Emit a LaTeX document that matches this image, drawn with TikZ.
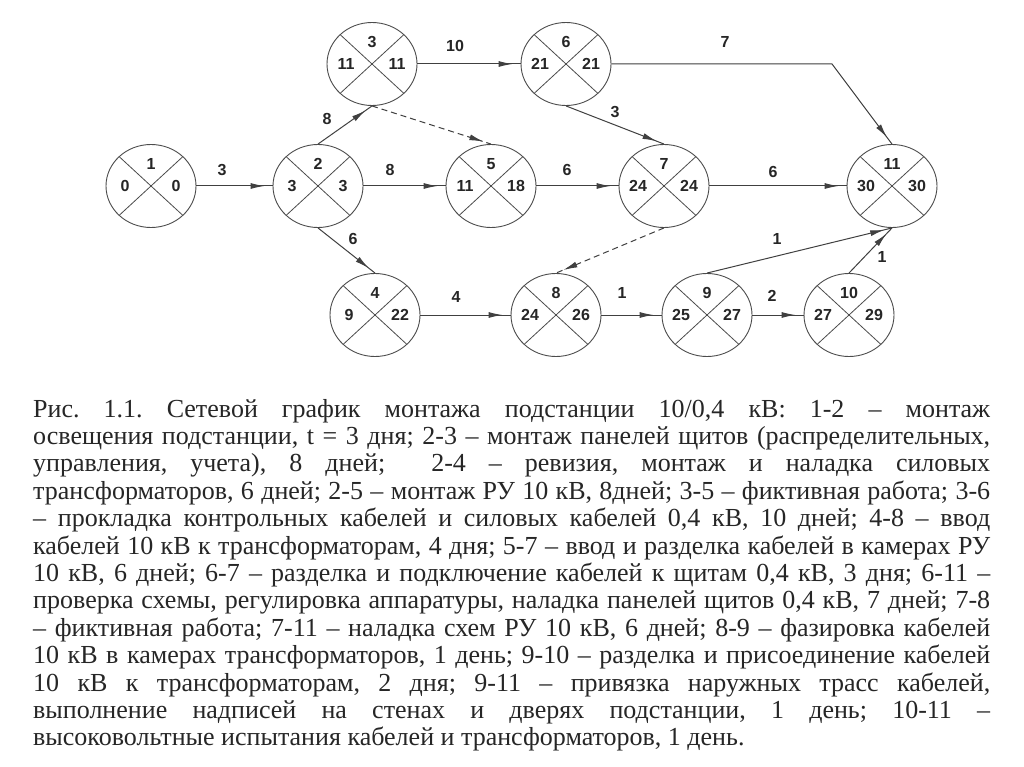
\documentclass[tikz,border=0pt]{standalone}
\usepackage{fontspec}
\setmainfont{Liberation Serif}
\newfontfamily\numfont{Liberation Sans}
\usetikzlibrary{shapes.geometric,arrows.meta,decorations.markings}
\tikzset{
  ev/.style={ellipse, draw=black!70, line width=0.9pt, minimum width=90pt, minimum height=83pt, inner sep=0pt,
    path picture={\draw[black!70, line width=0.8pt]
      (path picture bounding box.north west) -- (path picture bounding box.south east)
      (path picture bounding box.north east) -- (path picture bounding box.south west);}},
  num/.style={font=\numfont\bfseries\fontsize{16}{16}\selectfont, inner sep=0pt, text=black!85},
  lab/.style={num},
  act/.style={draw=black!75, line width=1pt, postaction={decorate},
    decoration={markings, mark=at position -8pt with {\arrow{Latex[length=14pt,width=6pt]}}}},
  fict/.style={act, dash pattern=on 6pt off 4pt},
}
\newcommand\evt[6]{%
  \node[ev] (#1) at (#2,#3) {};
  \node[num] (#1t) at ({#2},{#3-22}) {#4};
  \node[num] (#1l) at ({#2-26},{#3}) {#5};
  \node[num] (#1r) at ({#2+25},{#3}) {#6};
}
\newcommand\capln[1]{\hbox to \hsize{#1}}
\begin{document}
\begin{tikzpicture}[x=1pt,y=-1pt]
\fill[white] (0,0) rectangle (1024,767);
\useasboundingbox (0,0) rectangle (1024,767);
% events
\evt{n1}{151}{186}{1}{0}{0}
\evt{n2}{318}{186}{2}{3}{3}
\evt{n3}{372}{64}{3}{11}{11}
\evt{n4}{375}{315}{4}{9}{22}
\evt{n5}{491}{186}{5}{11}{18}
\evt{n6}{566}{64}{6}{21}{21}
\evt{n7}{664}{186}{7}{24}{24}
\evt{n8}{556}{315}{8}{24}{26}
\evt{n9}{707}{315}{9}{25}{27}
\evt{n10}{849}{315}{10}{27}{29}
\evt{n11}{892}{186}{11}{30}{30}
\coordinate (c611) at (832,64);
% activities
\draw[act] (n1) -- (n2);
\draw[act] (n2.north) -- (n3.south);
\draw[fict] (n3.south) -- (n5.north);
\draw[act] (n3) -- (n6);
\draw[act] (n6) -- (c611) -- (n11.north);
\draw[act] (n6.south) -- (n7.north);
\draw[act] (n2) -- (n5);
\draw[act] (n5) -- (n7);
\draw[act] (n7) -- (n11);
\draw[act] (n2.south) -- (n4.north);
\draw[act] (n4) -- (n8);
\draw[fict] (n7.south) -- (n8.north);
\draw[act] (n8) -- (n9);
\draw[act] (n9) -- (n10);
\draw[act] (n9.north) -- (n11.south);
\draw[act] (n10.north) -- (n11.south);
% durations
\node[lab] (l12) at (222,170) {3};
\node[lab] (l23) at (327,119) {8};
\node[lab] (l36) at (455,46) {10};
\node[lab] (l611) at (725,42) {7};
\node[lab] (l67) at (615,112) {3};
\node[lab] (l25) at (390,170) {8};
\node[lab] (l57) at (567,170) {6};
\node[lab] (l711) at (773,172) {6};
\node[lab] (l24) at (353,239) {6};
\node[lab] (l48) at (456,297) {4};
\node[lab] (l89) at (622,293) {1};
\node[lab] (l910) at (772,296) {2};
\node[lab] (l911) at (777,239) {1};
\node[lab] (l1011) at (882,257) {1};
% caption
\node[anchor=base west, inner sep=0pt, text=black!85] (cap) at (33,417) {\parbox[t]{957pt}{\fontsize{26}{27.4}\selectfont\frenchspacing
\capln{Рис. 1.1. Сетевой график монтажа подстанции 10/0,4 кВ: 1-2 – монтаж}
\capln{освещения подстанции, t = 3 дня; 2-3 – монтаж панелей щитов (распределительных,}
\capln{управления, учета), 8 дней;\ \ 2-4 – ревизия, монтаж и наладка силовых}
\capln{трансформаторов, 6 дней; 2-5 – монтаж РУ 10 кВ, 8дней; 3-5 – фиктивная работа; 3-6}
\capln{– прокладка контрольных кабелей и силовых кабелей 0,4 кВ, 10 дней; 4-8 – ввод}
\capln{кабелей 10 кВ к трансформаторам, 4 дня; 5-7 – ввод и разделка кабелей в камерах РУ}
\capln{10 кВ, 6 дней; 6-7 – разделка и подключение кабелей к щитам 0,4 кВ, 3 дня; 6-11 –}
\capln{проверка схемы, регулировка аппаратуры, наладка панелей щитов 0,4 кВ, 7 дней; 7-8}
\capln{– фиктивная работа; 7-11 – наладка схем РУ 10 кВ, 6 дней; 8-9 – фазировка кабелей}
\capln{10 кВ в камерах трансформаторов, 1 день; 9-10 – разделка и присоединение кабелей}
\capln{10 кВ к трансформаторам, 2 дня; 9-11 – привязка наружных трасс кабелей,}
\capln{выполнение надписей на стенах и дверях подстанции, 1 день; 10-11 –}
\hbox{высоковольтные испытания кабелей и трансформаторов, 1 день.}}};
\end{tikzpicture}
\end{document}
